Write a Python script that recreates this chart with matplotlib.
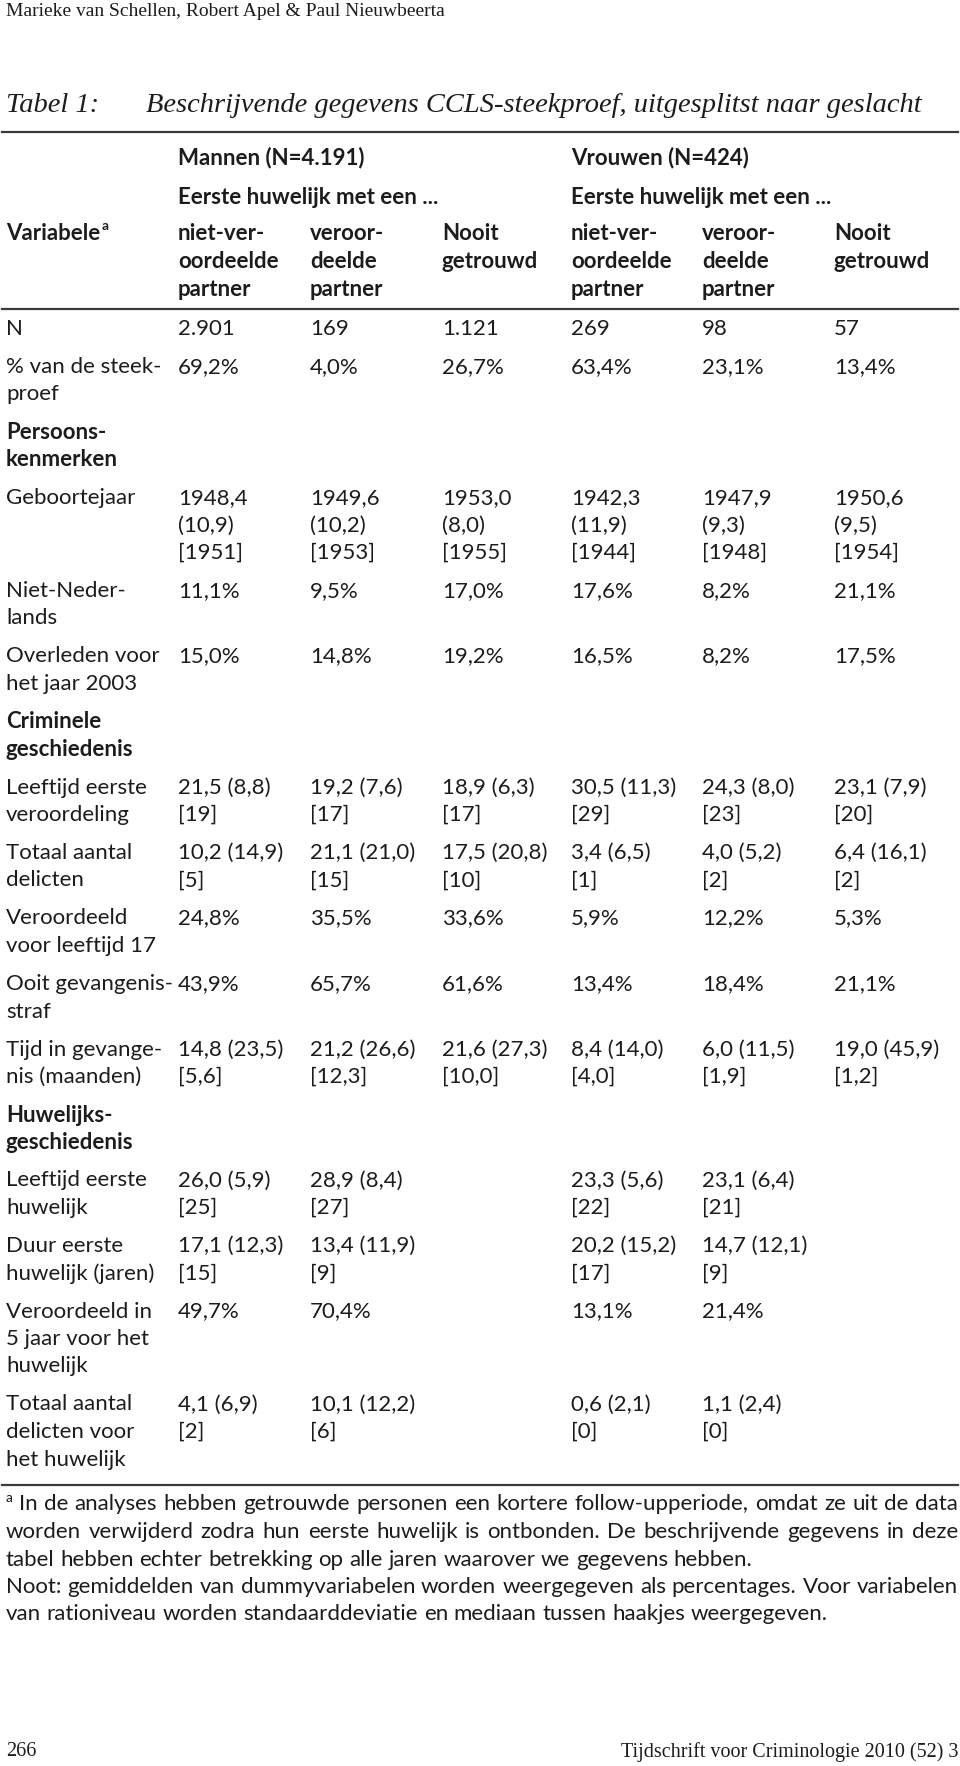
import matplotlib
matplotlib.use("Agg")
import matplotlib.pyplot as plt

# Table content
running_head = "Marieke van Schellen, Robert Apel & Paul Nieuwbeerta"
table_no = "Tabel 1:"
title = "Beschrijvende gegevens CCLS-steekproef, uitgesplitst naar geslacht"
groups = ["Mannen (N=4.191)", "Vrouwen (N=424)"]
subhead = "Eerste huwelijk met een ..."
col_heads = [["niet-ver-", "oordeelde", "partner"],
             ["veroor-", "deelde", "partner"],
             ["Nooit", "getrouwd"]]

# (label lines, values per column; None marks a section heading)
rows = [
    (["N"], ["2.901", "169", "1.121", "269", "98", "57"]),
    (["% van de steek-", "proef"], ["69,2%", "4,0%", "26,7%", "63,4%", "23,1%", "13,4%"]),
    (["Persoons-", "kenmerken"], None),
    (["Geboortejaar"], ["1948,4\n(10,9)\n[1951]", "1949,6\n(10,2)\n[1953]", "1953,0\n(8,0)\n[1955]",
                        "1942,3\n(11,9)\n[1944]", "1947,9\n(9,3)\n[1948]", "1950,6\n(9,5)\n[1954]"]),
    (["Niet-Neder-", "lands"], ["11,1%", "9,5%", "17,0%", "17,6%", "8,2%", "21,1%"]),
    (["Overleden voor", "het jaar 2003"], ["15,0%", "14,8%", "19,2%", "16,5%", "8,2%", "17,5%"]),
    (["Criminele", "geschiedenis"], None),
    (["Leeftijd eerste", "veroordeling"], ["21,5 (8,8)\n[19]", "19,2 (7,6)\n[17]", "18,9 (6,3)\n[17]",
                                           "30,5 (11,3)\n[29]", "24,3 (8,0)\n[23]", "23,1 (7,9)\n[20]"]),
    (["Totaal aantal", "delicten"], ["10,2 (14,9)\n[5]", "21,1 (21,0)\n[15]", "17,5 (20,8)\n[10]",
                                     "3,4 (6,5)\n[1]", "4,0 (5,2)\n[2]", "6,4 (16,1)\n[2]"]),
    (["Veroordeeld", "voor leeftijd 17"], ["24,8%", "35,5%", "33,6%", "5,9%", "12,2%", "5,3%"]),
    (["Ooit gevangenis-", "straf"], ["43,9%", "65,7%", "61,6%", "13,4%", "18,4%", "21,1%"]),
    (["Tijd in gevange-", "nis (maanden)"], ["14,8 (23,5)\n[5,6]", "21,2 (26,6)\n[12,3]", "21,6 (27,3)\n[10,0]",
                                            "8,4 (14,0)\n[4,0]", "6,0 (11,5)\n[1,9]", "19,0 (45,9)\n[1,2]"]),
    (["Huwelijks-", "geschiedenis"], None),
    (["Leeftijd eerste", "huwelijk"], ["26,0 (5,9)\n[25]", "28,9 (8,4)\n[27]", "",
                                       "23,3 (5,6)\n[22]", "23,1 (6,4)\n[21]", ""]),
    (["Duur eerste", "huwelijk (jaren)"], ["17,1 (12,3)\n[15]", "13,4 (11,9)\n[9]", "",
                                           "20,2 (15,2)\n[17]", "14,7 (12,1)\n[9]", ""]),
    (["Veroordeeld in", "5 jaar voor het", "huwelijk"], ["49,7%", "70,4%", "", "13,1%", "21,4%", ""]),
    (["Totaal aantal", "delicten voor", "het huwelijk"], ["4,1 (6,9)\n[2]", "10,1 (12,2)\n[6]", "",
                                                        "0,6 (2,1)\n[0]", "1,1 (2,4)\n[0]", ""]),
]

footnote = [
    ("In de analyses hebben getrouwde personen een kortere follow-upperiode, omdat ze uit de data", True),
    ("worden verwijderd zodra hun eerste huwelijk is ontbonden. De beschrijvende gegevens in deze", True),
    ("tabel hebben echter betrekking op alle jaren waarover we gegevens hebben.", False),
    ("Noot: gemiddelden van dummyvariabelen worden weergegeven als percentages. Voor variabelen", True),
    ("van rationiveau worden standaarddeviatie en mediaan tussen haakjes weergegeven.", False),
]
page_no = "266"
journal = "Tijdschrift voor Criminologie 2010 (52) 3"

# Layout
W, H = 960, 1766
SANS = "Lato"
SERIF = "Liberation Serif"
FS = 16
TXT = "#1c1c1c"
LH = 27.5
col_x = [178, 310, 442, 571, 702, 834]
left = 6
right = 958

fig = plt.figure(figsize=(W / 100, H / 100), dpi=100)
ax = fig.add_axes([0, 0, 1, 1])
ax.set_xlim(0, W)
ax.set_ylim(H, 0)
ax.axis("off")


def put(x, y, s, weight="normal", size=FS, family=SANS, ha="left", style="normal"):
    return ax.text(x, y, s, fontsize=size, family=family, fontweight=weight,
                   fontstyle=style, ha=ha, va="center", color=TXT)


put(left, 12, running_head, size=14, family=SERIF)
put(left, 105, table_no, size=20.5, family=SERIF, style="italic")
put(146, 105, title, size=20.5, family=SERIF, style="italic")

rule_kw = dict(color="#3a3a3a", lw=1.6)
ax.plot([left - 4, right], [132, 132], **rule_kw)

# header
for g, gx in zip(groups, [col_x[0], col_x[3]]):
    put(gx, 158, g, weight="bold")
    put(gx, 197, subhead, weight="bold")
t = put(left, 234, "Variabele", weight="bold")
fig.canvas.draw()
rend = fig.canvas.get_renderer()
bb = t.get_window_extent(rend)
put(left + bb.width + 1, 226, "a", weight="bold", size=10)
for i, x in enumerate(col_x):
    for k, line in enumerate(col_heads[i % 3]):
        put(x, 234 + k * 27.5, line, weight="bold")

ax.plot([left - 4, right], [309, 309], **rule_kw)

# body
y = 329
for label, vals in rows:
    bold = vals is None
    for k, line in enumerate(label):
        put(left, y + k * LH, line, weight="bold" if bold else "normal")
    nlines = len(label)
    if vals:
        for x, v in zip(col_x, vals):
            if not v:
                continue
            parts = v.split("\n")
            for k, line in enumerate(parts):
                put(x, y + k * LH, line)
            nlines = max(nlines, len(parts))
    y += nlines * LH + 10.5

ax.plot([left - 4, right], [1485, 1485], **rule_kw)

# natural word gap for the body font
fig.canvas.draw()
r = fig.canvas.get_renderer()
t1 = put(left, 1600, "a a")
t2 = put(left, 1600, "aa")
space_w = t1.get_window_extent(r).width - t2.get_window_extent(r).width
t1.remove()
t2.remove()


# footnote, justified lines
def justify(line, x0, x1, yy, full):
    words = line.split(" ")
    objs = [put(x0, yy, w) for w in words]
    fig.canvas.draw()
    rr = fig.canvas.get_renderer()
    widths = [o.get_window_extent(rr).width for o in objs]
    gap = space_w
    if full and len(words) > 1:
        gap = (x1 - x0 - sum(widths)) / (len(words) - 1)
    xx = x0
    for o, w in zip(objs, widths):
        o.set_x(xx)
        xx += w + gap


fy = [1504, 1532, 1560, 1587, 1614]
put(left, fy[0] - 6, "a", size=10)
for i, ((line, full), yy) in enumerate(zip(footnote, fy)):
    justify(line, left + (13 if i == 0 else 0), right, yy, full)

put(left, 1752, page_no, size=14.5, family=SERIF)
put(right, 1752, journal, size=14.5, family=SERIF, ha="right")

fig.savefig("out.png", dpi=100, facecolor="white")
